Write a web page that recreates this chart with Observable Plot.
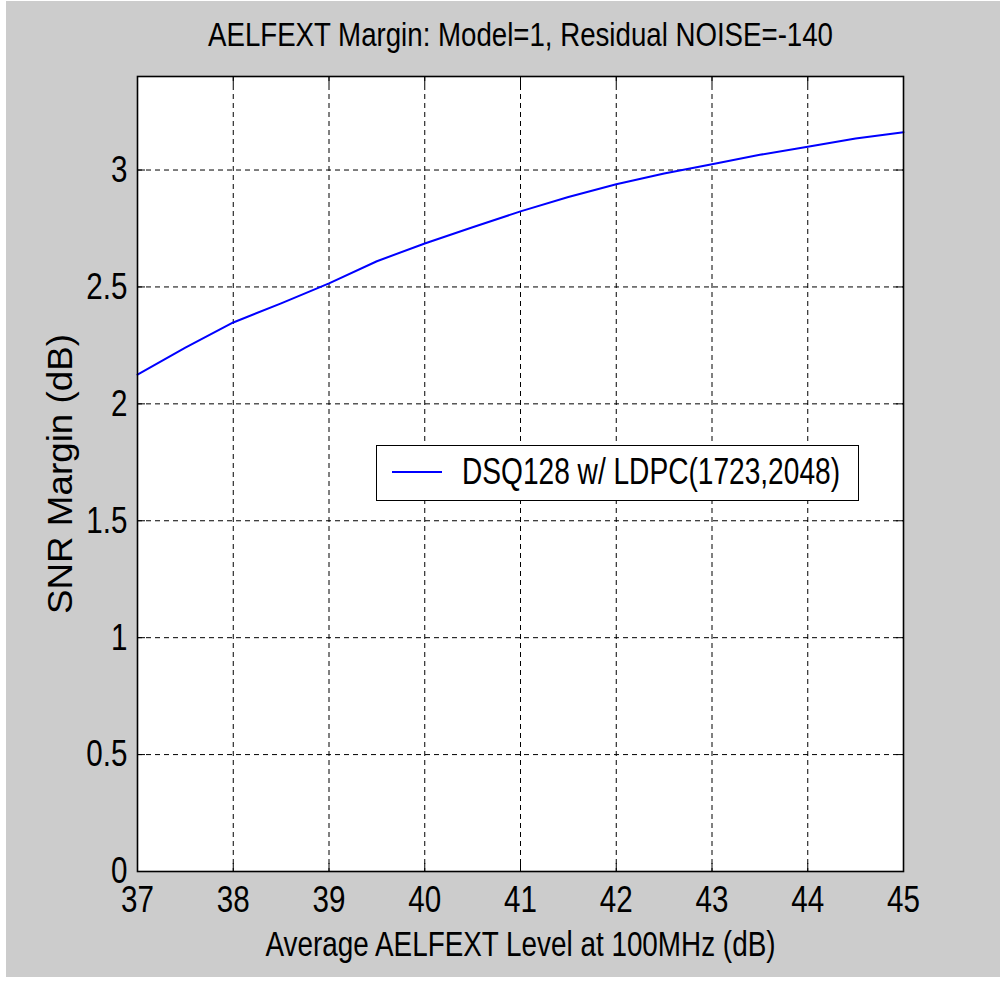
<!DOCTYPE html>
<html><head><meta charset="utf-8">
<script src="https://cdn.jsdelivr.net/npm/d3@7"></script>
<script src="https://cdn.jsdelivr.net/npm/@observablehq/plot@0.6"></script>
<style>
body{margin:0;background:#fff;}
#wrap{position:relative;width:1000px;height:981px;background:#fff;overflow:hidden;}
#fig{position:absolute;left:6px;top:1px;width:994px;height:976px;background:#cccccc;}
#legend{position:absolute;left:376px;top:445px;width:483px;height:56px;box-sizing:border-box;border:1.5px solid #000;background:#fff;
  font-family:'Liberation Sans',Arial,sans-serif;font-size:37px;color:#000;}
#legend .sw{position:absolute;left:15px;top:25px;width:50px;height:0;border-top:2px solid #0000ff;}
#legend .lb{position:absolute;left:85px;top:4px;line-height:44px;white-space:nowrap;display:inline-block;transform-origin:0 50%;}
</style></head>
<body>
<div id="wrap"><div id="fig"></div>
<div id="legend"><div class="sw"></div><span class="lb"></span></div>
</div>
<script>
const titleText = "AELFEXT Margin: Model=1, Residual NOISE=-140";
const xLabel = "Average AELFEXT Level at 100MHz (dB)";
const yLabel = "SNR Margin (dB)";
const seriesName = "DSQ128 w/ LDPC(1723,2048)";
const xValues = [37, 37.5, 38, 38.5, 39, 39.5, 40, 40.5, 41, 41.5, 42, 42.5, 43, 43.5, 44, 44.5, 45];
const snrMargin = [2.125, 2.24, 2.348, 2.43, 2.515, 2.61, 2.686, 2.755, 2.823, 2.885, 2.939, 2.985, 3.025, 3.065, 3.10, 3.135, 3.162];
const xTicks = [37, 38, 39, 40, 41, 42, 43, 44, 45];
const yTicks = [0, 0.5, 1, 1.5, 2, 2.5, 3];

const FONT = "'Liberation Sans',Arial,sans-serif";
const data = xValues.map((x, i) => ({x, y: snrMargin[i]}));

const chart = Plot.plot({
  width: 994, height: 976,
  marginLeft: 131, marginRight: 97, marginTop: 75, marginBottom: 106,
  style: {background: "transparent", fontFamily: FONT, fontSize: "36px", color: "#000"},
  x: {domain: [37, 45], label: null},
  y: {domain: [0, 3.4], label: null},
  marks: [
    Plot.frame({fill: "white", stroke: null}),
    Plot.gridX(xTicks, {stroke: "#000", strokeOpacity: 1, strokeDasharray: "5,4"}),
    Plot.gridY(yTicks, {stroke: "#000", strokeOpacity: 1, strokeDasharray: "5,4"}),
    Plot.line(data, {x: "x", y: "y", stroke: "#0000ff", strokeWidth: 2}),
    Plot.frame({stroke: "#000", strokeWidth: 1.6}),
    Plot.axisX(xTicks, {anchor: "bottom", tickSize: -8, tickPadding: 22, tickFormat: d => String(d), fontSize: 37, label: null}),
    Plot.axisX(xTicks, {anchor: "top", tickSize: -8, tickFormat: () => "", label: null}),
    Plot.axisY(yTicks, {anchor: "left", tickSize: -8, tickPadding: 18, tickFormat: d => String(d), fontSize: 37, label: null}),
    Plot.axisY(yTicks, {anchor: "right", tickSize: -8, tickFormat: () => "", label: null}),
    Plot.text([titleText], {text: d => d, frameAnchor: "top", lineAnchor: "middle", textAnchor: "middle", dy: -41, fontSize: 33, fill: "#000"}),
    Plot.text([xLabel], {text: d => d, frameAnchor: "bottom", lineAnchor: "middle", textAnchor: "middle", dy: 73.5, fontSize: 35, fill: "#000"}),
    Plot.text([yLabel], {text: d => d, frameAnchor: "left", lineAnchor: "middle", textAnchor: "middle", dx: -76.5, rotate: -90, fontSize: 35, fill: "#000"})
  ]
});
document.getElementById("fig").appendChild(chart);

// condense text widths to mimic the narrow bitmap font of the original
const targets = {};
targets[titleText] = 625;
targets[xLabel] = 510;
targets[yLabel] = 280;
chart.querySelectorAll("text").forEach(t => {
  const s = t.textContent;
  if (!s) return;
  const w = t.getComputedTextLength();
  if (!w) return;
  const target = targets[s] != null ? targets[s] : w * 0.8;
  t.setAttribute("textLength", target);
  t.setAttribute("lengthAdjust", "spacingAndGlyphs");
});

const lb = document.querySelector("#legend .lb");
lb.textContent = seriesName;
const lw = lb.getBoundingClientRect().width;
lb.style.transform = `scaleX(${378 / lw})`;
</script>
</body></html>
